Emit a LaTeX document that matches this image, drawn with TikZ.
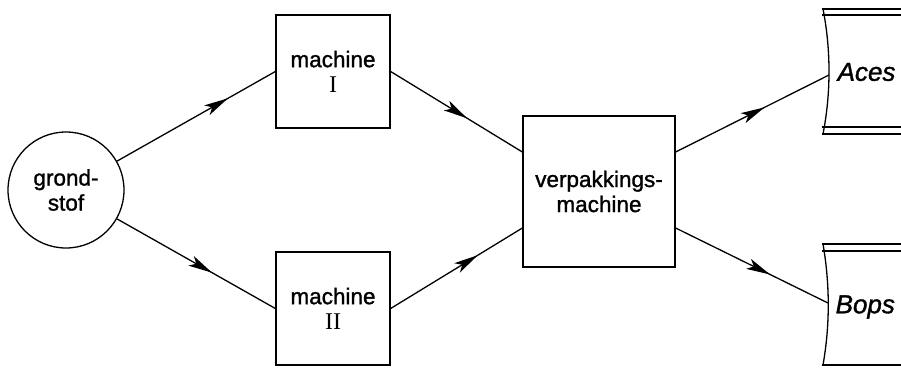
\documentclass[tikz,border=0pt]{standalone}
\usepackage{fontspec}
\setmainfont{Liberation Serif}
\setsansfont{Liberation Sans}[BoldFont={Liberation Sans},BoldFeatures={FakeBold=1.3},BoldItalicFont={Liberation Sans Italic},BoldItalicFeatures={FakeBold=1.3}]
\usetikzlibrary{arrows.meta,decorations.markings,calc}
\begin{document}
\begin{tikzpicture}[x=1pt,y=-1pt,line width=1.3pt,
  lbl/.style={font=\sffamily\bfseries\fontsize{22.5}{25}\selectfont, align=center},
  box/.style={lbl, draw, minimum width=114pt, minimum height=113pt, inner sep=0pt},
  bigbox/.style={lbl, draw, minimum width=152pt, minimum height=151pt, inner sep=0pt},
  src/.style={lbl, draw, circle, minimum size=116pt, inner sep=0pt},
  prod/.style={font=\sffamily\bfseries\itshape\fontsize{26}{28}\selectfont, anchor=west, inner sep=0pt},
  flow/.style={postaction={decorate}, decoration={markings,
    mark=at position #1 with {\arrow{Stealth[length=24pt,width=11pt,inset=6pt]}}}}
]
\useasboundingbox (0,0) rectangle (901,367);

\node[src] (g) at (66,190) {grond-\\stof};
\node[box] (m1) at (333,71.5) {machine\\{\rmfamily\mdseries\fontsize{24}{25}\selectfont I}};
\node[box] (m2) at (333,308.5) {machine\\{\rmfamily\mdseries\fontsize{24}{25}\selectfont II}};
\node[bigbox] (v) at (599,191.5) {verpakkings-\\machine};

% packets
\draw (822,9) -- (901,9) (822,15) -- (901,15);
\draw (822,127) -- (901,127) (822,134) -- (901,134);
\draw (823,9) .. controls (831,50) and (831,93) .. (823,134);
\node[prod] (aces) at (837,72) {Aces};
\coordinate (acesin) at (829,75);

\draw (822,244) -- (901,244) (822,251) -- (901,251);
\draw (822,365) -- (901,365);
\draw (823,244) .. controls (830,285) and (830,325) .. (823,365);
\node[prod] (bops) at (835,307) {Bops};
\coordinate (bopsin) at (828,303);

% connectors
\draw[flow=0.7] (g) -- (m1.west);
\draw[flow=0.6] (g) -- (m2.west);
\draw[flow=0.58] (m1.east) -- ($(v.west)+(0,-39.5)$);
\draw[flow=0.66] (m2.east) -- ($(v.west)+(0,36.5)$);
\draw[flow=0.58] ($(v.east)+(0,-39.5)$) -- (acesin);
\draw[flow=0.62] ($(v.east)+(0,36.5)$) -- (bopsin);
\end{tikzpicture}
\end{document}
